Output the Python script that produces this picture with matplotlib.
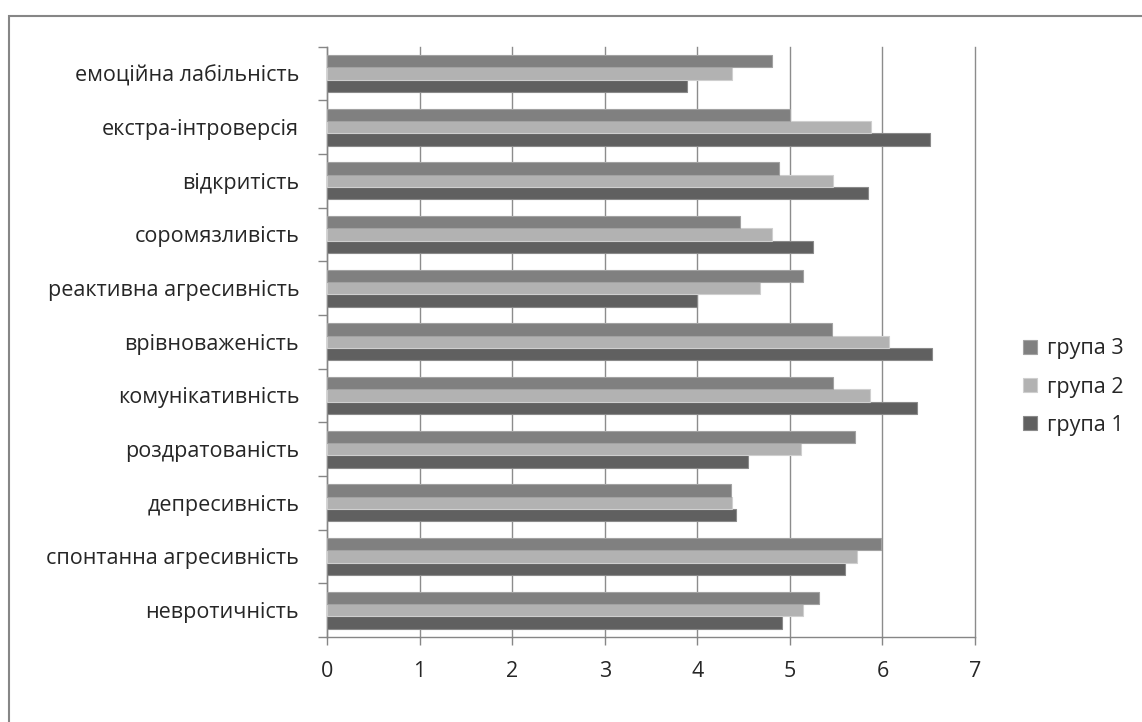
import numpy as np
import matplotlib.pyplot as plt
from matplotlib.patches import Rectangle

plt.rcParams['font.family'] = ['Open Sans', 'DejaVu Sans']

# шкали, знизу догори
categories = ['невротичність', 'спонтанна агресивність', 'депресивність',
              'роздратованість', 'комунікативність', 'врівноваженість',
              'реактивна агресивність', 'соромязливість', 'відкритість',
              'екстра-інтроверсія', 'емоційна лабільність']
group1 = [4.91, 5.60, 4.42, 4.55, 6.37, 6.54, 4.00, 5.25, 5.84, 6.51, 3.89]
group2 = [5.14, 5.73, 4.37, 5.12, 5.87, 6.07, 4.68, 4.81, 5.47, 5.88, 4.37]
group3 = [5.31, 5.98, 4.36, 5.70, 5.47, 5.45, 5.14, 4.46, 4.88, 5.00, 4.81]
series_names = ['група 1', 'група 2', 'група 3']
x_ticks = [0, 1, 2, 3, 4, 5, 6, 7]

colors = ['#606060', '#b2b2b2', '#808080']
edges = ['#8a8a8a', '#cfcfcf', '#a2a2a2']
fs = 15.5

fig = plt.figure(figsize=(11.42, 7.22), dpi=100)
ax = fig.add_axes([327 / 1142, 1 - 637 / 722, 648 / 1142, 590.5 / 722])

# рамка діаграми
fig.patches.append(Rectangle((9 / 1142, -0.1), 1.2, 1 - 16 / 722 + 0.1,
                             transform=fig.transFigure, fill=False,
                             edgecolor='#868686', linewidth=1.5))

y = np.arange(len(categories))
h = 0.23
for k, vals in enumerate([group1, group2, group3]):
    ax.barh(y + (k - 1) * h, vals, height=h, color=colors[k],
            edgecolor=edges[k], linewidth=0.8, label=series_names[k], zorder=3)

ax.set_xlim(0, 7)
ax.set_ylim(-0.5, len(categories) - 0.5)
ax.set_xticks(x_ticks)
ax.set_xticklabels([str(t) for t in x_ticks], fontsize=fs, color='#262626')
ax.xaxis.grid(True, color='#8c8c8c', linewidth=1.0, zorder=0)
ax.set_axisbelow(True)
for gl in ax.get_xgridlines():
    gl.set_clip_on(False)

ax.set_yticks(y)
ax.set_yticklabels(categories, fontsize=fs, color='#262626')
ax.set_yticks(np.arange(-0.5, len(categories), 1), minor=True)
ax.tick_params(axis='y', which='major', length=0, pad=20)
ax.tick_params(axis='y', which='minor', length=6.5, color='#868686', width=1.0)
ax.tick_params(axis='x', length=6, color='#868686', width=1.0, pad=11)

for side in ['top', 'right']:
    ax.spines[side].set_visible(False)
for side in ['left', 'bottom']:
    ax.spines[side].set_color('#868686')
    ax.spines[side].set_linewidth(1.0)

handles, labels = ax.get_legend_handles_labels()
fig.legend(handles[::-1], labels[::-1], loc='center left',
           bbox_to_anchor=(1004 / 1142, 1 - 387 / 722), frameon=False,
           fontsize=fs, handlelength=0.65, handleheight=0.65, handletextpad=0.45,
           labelspacing=0.8, labelcolor='#262626')

fig.savefig('out.png', dpi=100, facecolor='white')
